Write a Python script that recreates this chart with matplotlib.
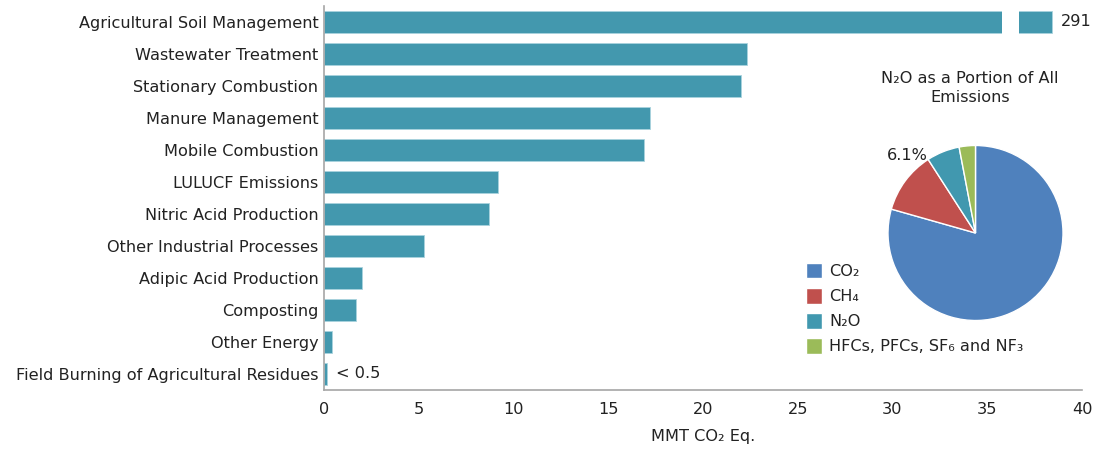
import matplotlib
matplotlib.use("Agg")
import matplotlib.pyplot as plt
from matplotlib.patches import Rectangle

categories = ["Agricultural Soil Management", "Wastewater Treatment", "Stationary Combustion",
              "Manure Management", "Mobile Combustion", "LULUCF Emissions",
              "Nitric Acid Production", "Other Industrial Processes", "Adipic Acid Production",
              "Composting", "Other Energy", "Field Burning of Agricultural Residues"]
values = [291, 22.3, 22.0, 17.2, 16.9, 9.2, 8.7, 5.3, 2.0, 1.7, 0.4, 0.15]
value_labels = {0: "291", 11: "< 0.5"}
x_ticks = [0, 5, 10, 15, 20, 25, 30, 35, 40]

pie_labels = ["CO\u2082", "CH\u2084", "N\u2082O", "HFCs, PFCs, SF\u2086 and NF\u2083"]
pie_values = [79.4, 11.5, 6.1, 3.0]
pie_colors = ["#4F81BD", "#C0504D", "#4198AF", "#9BBB59"]

plt.rcParams['font.family'] = ['DejaVu Sans']
bar_color = "#4398AE"
text_color = "#222222"
fs = 11.6

fig = plt.figure(figsize=(10.97, 4.51), dpi=100)
ax = fig.add_axes([0.2954, 0.1353, 0.6909, 0.8514])

xmax = 40
cap = 38.4       # visual end of broken bar
gap = (35.8, 36.7)
ypos = list(range(len(categories)))
widths = [min(v, cap) for v in values]
ax.barh(ypos, widths, height=0.7, color=bar_color, edgecolor="#A9D3DE", linewidth=0.6)
# break in the first bar
ax.add_patch(Rectangle((gap[0], -0.45), gap[1] - gap[0], 0.9, facecolor="white",
                       edgecolor="none", zorder=3))

for i, lab in value_labels.items():
    ax.text(widths[i] + 0.5, i, lab, va="center", ha="left", fontsize=fs, color=text_color)

ax.set_xlim(0, xmax)
ax.set_ylim(len(categories) - 0.5, -0.5)
ax.set_yticks(ypos)
ax.set_yticklabels(categories, fontsize=fs, color=text_color)
ax.set_xticks(x_ticks)
ax.set_xticklabels([str(t) for t in x_ticks], fontsize=fs, color=text_color)
ax.tick_params(axis="both", length=0)
ax.tick_params(axis="y", pad=4)
ax.tick_params(axis="x", pad=9)
ax.set_xlabel("MMT CO\u2082 Eq.", fontsize=fs, color=text_color, labelpad=8)
for s in ["top", "right"]:
    ax.spines[s].set_visible(False)
for s in ["left", "bottom"]:
    ax.spines[s].set_color("#A6A6A6")
    ax.spines[s].set_linewidth(1.2)

# pie inset
cx, cy, r = 975.5, 233, 87.5
W, H = 1097, 451
pax = fig.add_axes([(cx - r) / W, 1 - (cy + r) / H, 2 * r / W, 2 * r / H])
wedges, _ = pax.pie(pie_values, colors=pie_colors, startangle=90, counterclock=False,
                    wedgeprops=dict(edgecolor="white", linewidth=1.0))
pax.set_aspect("equal")
pax.set_xlim(-1, 1)
pax.set_ylim(-1, 1)

fig.text(970 / W, 1 - 88 / H, "N\u2082O as a Portion of All\nEmissions", ha="center", va="center",
         fontsize=fs, color=text_color, linespacing=1.3)
fig.text(907 / W, 1 - 156 / H, "6.1%", ha="center", va="center", fontsize=fs, color=text_color)

leg = fig.legend(wedges, pie_labels, loc="upper left", bbox_to_anchor=(806 / W, 1 - 263 / H),
                 frameon=False, fontsize=fs, handlelength=1.0, handleheight=1.1,
                 handletextpad=0.45, labelspacing=0.55, borderaxespad=0, borderpad=0)
for t in leg.get_texts():
    t.set_color(text_color)

fig.savefig("out.png", dpi=100)
